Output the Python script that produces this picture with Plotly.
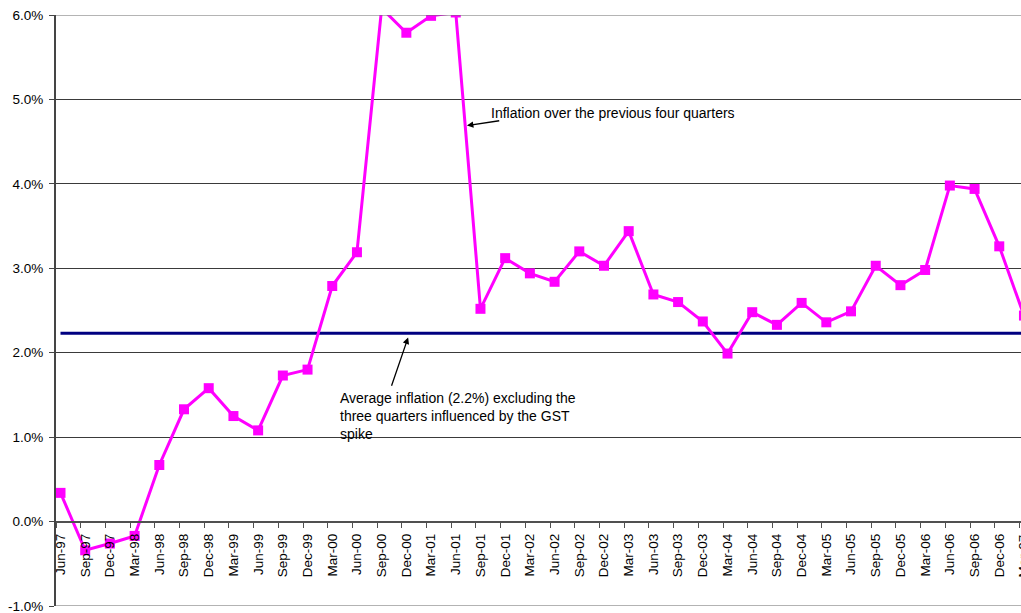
import plotly.graph_objects as go

quarters = ["Jun-97", "Sep-97", "Dec-97", "Mar-98", "Jun-98", "Sep-98", "Dec-98", "Mar-99",
            "Jun-99", "Sep-99", "Dec-99", "Mar-00", "Jun-00", "Sep-00", "Dec-00", "Mar-01",
            "Jun-01", "Sep-01", "Dec-01", "Mar-02", "Jun-02", "Sep-02", "Dec-02", "Mar-03",
            "Jun-03", "Sep-03", "Dec-03", "Mar-04", "Jun-04", "Sep-04", "Dec-04", "Mar-05",
            "Jun-05", "Sep-05", "Dec-05", "Mar-06", "Jun-06", "Sep-06", "Dec-06", "Mar-07"]

inflation = [0.34, -0.34, -0.26, -0.17, 0.67, 1.33, 1.58, 1.25,
             1.08, 1.73, 1.80, 2.79, 3.19, 6.08, 5.79, 5.99,
             6.03, 2.52, 3.12, 2.94, 2.84, 3.20, 3.03, 3.44,
             2.69, 2.60, 2.37, 1.99, 2.48, 2.33, 2.59, 2.36,
             2.49, 3.03, 2.80, 2.98, 3.98, 3.94, 3.26, 2.44]

average_excl_gst = 2.23

y_ticks = [-1, 0, 1, 2, 3, 4, 5, 6]
y_tick_text = ["-1.0%", "0.0%", "1.0%", "2.0%", "3.0%", "4.0%", "5.0%", "6.0%"]

idx = list(range(len(quarters)))
FONT = "Liberation Sans, Arial, sans-serif"

fig = go.Figure()
fig.add_trace(go.Scatter(
    x=idx, y=[average_excl_gst] * len(quarters), mode="lines",
    line=dict(color="#000080", width=3), showlegend=False, hoverinfo="skip"))
fig.add_trace(go.Scatter(
    x=idx, y=inflation, mode="lines+markers",
    line=dict(color="#FF00FF", width=3),
    marker=dict(symbol="square", size=10, color="#FF00FF"),
    showlegend=False))

fig.update_layout(
    width=1021, height=613,
    margin=dict(l=56, r=0, t=15, b=7, autoexpand=False),
    paper_bgcolor="white", plot_bgcolor="white",
    font=dict(family=FONT, size=14, color="black"),
    xaxis=dict(
        range=[-0.182, 38.88], anchor="free", position=1 / 7,
        tickmode="array", tickvals=idx, ticktext=quarters,
        tickangle=-90, ticks="", showgrid=False, zeroline=False,
        showline=True, linecolor="#505050", linewidth=1.5,
        tickfont=dict(family=FONT, size=13.5, color="black"),
        ticklabelstandoff=6, automargin=False),
    xaxis2=dict(
        matches="x", overlaying="x", anchor="free", position=1 / 7,
        tickmode="array", tickvals=[i - 0.182 for i in idx],
        showticklabels=False, ticks="outside", ticklen=5,
        tickcolor="#505050", tickwidth=1.2, showgrid=False,
        zeroline=False, showline=False),
    yaxis=dict(
        range=[-1, 6], tickmode="array", tickvals=y_ticks, ticktext=y_tick_text,
        showgrid=True, gridcolor="#3a3a3a", gridwidth=1, zeroline=False,
        showline=True, linecolor="#454545", linewidth=2,
        ticks="outside", ticklen=5, tickcolor="#454545", tickwidth=1.2,
        tickfont=dict(family=FONT, size=13.5, color="black"),
        ticklabelstandoff=3, ticklabeloverflow="allow", automargin=False),
)
# dummy trace to activate xaxis2 ticks
fig.add_trace(go.Scatter(x=[idx[0]], y=[None], xaxis="x2", showlegend=False,
                         hoverinfo="skip", mode="markers"))

fig.add_shape(type="line", xref="paper", yref="y", x0=0, x1=1, y0=-1, y1=-1,
              line=dict(color="#9a9a9a", width=1.5))
fig.add_shape(type="line", xref="paper", yref="y", x0=0, x1=1, y0=6, y1=6,
              line=dict(color="#6a6a6a", width=1.2))

# arrows
fig.add_annotation(x=16.45, y=4.69, ax=17.82, ay=4.75, axref="x", ayref="y",
                   xref="x", yref="y", text="", showarrow=True,
                   arrowhead=2, arrowsize=1, arrowwidth=1.3, arrowcolor="black")
fig.add_annotation(x=14.07, y=2.18, ax=13.38, ay=1.59, axref="x", ayref="y",
                   xref="x", yref="y", text="", showarrow=True,
                   arrowhead=2, arrowsize=1, arrowwidth=1.3, arrowcolor="black")
# texts
fig.add_annotation(x=17.35, y=4.84, xref="x", yref="y", xanchor="left", yanchor="middle",
                   text="Inflation over the previous four quarters", showarrow=False,
                   font=dict(family=FONT, size=14, color="black"))
fig.add_annotation(x=11.25, y=1.25, xref="x", yref="y", xanchor="left", yanchor="middle",
                   align="left", showarrow=False,
                   text="Average inflation (2.2%) excluding the<br>three quarters influenced by the GST<br>spike",
                   font=dict(family=FONT, size=14, color="black"))
# partially visible last category label (cut by the right edge as in the reference)
fig.add_annotation(x=1.0025, y=0.0846, xref="paper", yref="paper", xanchor="center",
                   yanchor="middle", textangle=-90, text=quarters[-1], showarrow=False,
                   font=dict(family=FONT, size=13.5, color="black"))

fig.write_html("out.html")
